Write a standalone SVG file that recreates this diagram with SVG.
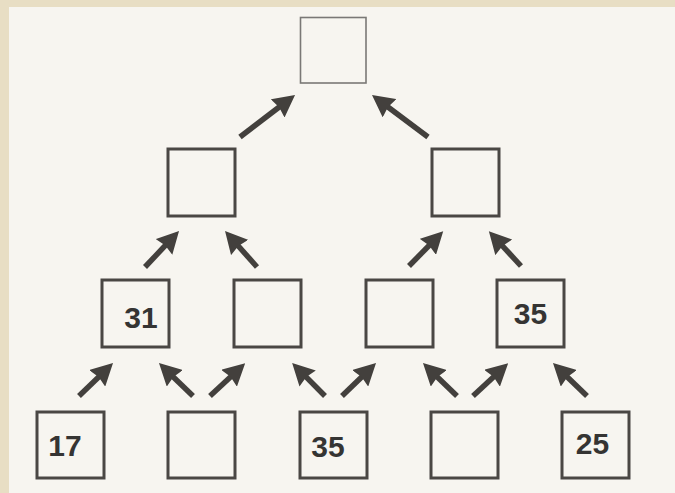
<svg xmlns="http://www.w3.org/2000/svg" width="675" height="493" viewBox="0 0 675 493">
<style>
.box{fill:none;stroke:#4a4744;stroke-width:3}
.thin{fill:none;stroke:#7a7876;stroke-width:1.6}
.num{font-family:"Liberation Sans",Arial,sans-serif;font-weight:bold;font-size:30px;fill:#353433;text-anchor:middle}
.arr{stroke:#43403d;stroke-width:5.5;marker-end:url(#head)}
</style>
<defs>
<marker id="head" markerUnits="userSpaceOnUse" markerWidth="22" markerHeight="23" viewBox="0 0 22 23" refX="10" refY="11.5" orient="auto">
<path d="M0,0 L22,11.5 L0,23 L2,11.5 z" fill="#43403d"/>
</marker>
</defs>
<rect x="0" y="0" width="675" height="493" fill="#e8dec4"/>
<rect x="9" y="7" width="666" height="486" fill="#f7f5f0"/>

<g id="n-top"><rect class="thin" x="300.5" y="17.5" width="65.5" height="65.5"/></g>
<g id="n-l2a"><rect class="box" x="168" y="149" width="67" height="67"/></g>
<g id="n-l2b"><rect class="box" x="432" y="149" width="67" height="67"/></g>
<g id="n-l3a"><rect class="box" x="102" y="280" width="67" height="67"/><text class="num" x="141" y="328">31</text></g>
<g id="n-l3d"><rect class="box" x="497" y="280" width="67" height="67"/><text class="num" x="530.5" y="324">35</text></g>
<g id="n-l3b"><rect class="box" x="234" y="280" width="67" height="67"/></g>
<g id="n-l3c"><rect class="box" x="366" y="280" width="67" height="67"/></g>
<g id="n-l4a"><rect class="box" x="37" y="412" width="67" height="66"/><text class="num" x="65" y="456">17</text></g>
<g id="n-l4b"><rect class="box" x="168" y="412" width="67" height="66"/></g>
<g id="n-l4c"><rect class="box" x="300" y="412" width="67" height="66"/><text class="num" x="328" y="457">35</text></g>
<g id="n-l4d"><rect class="box" x="431" y="412" width="67" height="66"/></g>
<g id="n-l4e"><rect class="box" x="562" y="412" width="67" height="66"/><text class="num" x="592.5" y="454">25</text></g>

<g id="connectors">
<line class="arr" x1="240" y1="137" x2="285.5" y2="102.3"/>
<line class="arr" x1="428" y1="137" x2="381.6" y2="102.2"/>
<line class="arr" x1="145" y1="267" x2="170.8" y2="239.7"/>
<line class="arr" x1="257" y1="267" x2="233" y2="240"/>
<line class="arr" x1="409" y1="266" x2="434.8" y2="239.7"/>
<line class="arr" x1="521" y1="266" x2="497" y2="240"/>
<line class="arr" x1="79" y1="396" x2="104.4" y2="371.4"/>
<line class="arr" x1="193" y1="396" x2="167.6" y2="371.4"/>
<line class="arr" x1="210" y1="396" x2="236.4" y2="371.4"/>
<line class="arr" x1="325" y1="396" x2="300.6" y2="371.4"/>
<line class="arr" x1="342" y1="396" x2="367.4" y2="371.4"/>
<line class="arr" x1="457" y1="396" x2="431.6" y2="371.4"/>
<line class="arr" x1="473" y1="396" x2="499.4" y2="371.4"/>
<line class="arr" x1="587" y1="396" x2="561.6" y2="371.4"/>
</g>
</svg>
